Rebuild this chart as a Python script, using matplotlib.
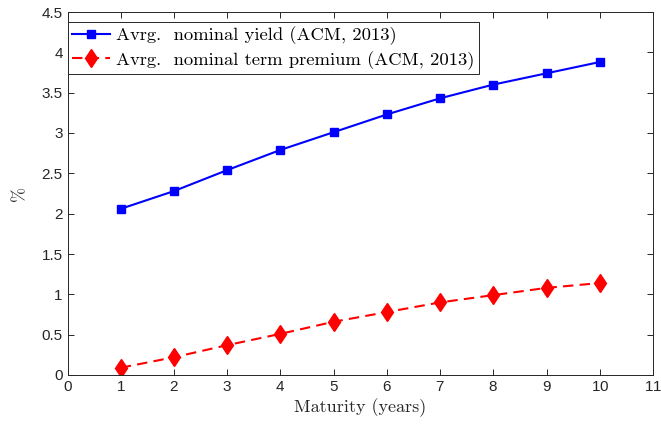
import matplotlib.pyplot as plt

maturity = [1, 2, 3, 4, 5, 6, 7, 8, 9, 10]
yield_avg = [2.06, 2.28, 2.54, 2.79, 3.01, 3.23, 3.43, 3.60, 3.74, 3.88]
term_prem = [0.09, 0.22, 0.37, 0.51, 0.66, 0.78, 0.90, 0.99, 1.08, 1.14]

plt.rcParams['axes.formatter.use_mathtext'] = True

fig = plt.figure(figsize=(6.61, 4.25), dpi=100)
ax = fig.add_axes([67.5 / 661, 50 / 425, 585.5 / 661, 363 / 425])

ax.plot(maturity, yield_avg, color='#0000ff', marker='s', markersize=6,
        linewidth=1.5, label='Avrg.  nominal yield (ACM, 2013)')
ax.plot(maturity, term_prem, color='#ff0000', marker='d', markersize=9.5,
        linewidth=1.5, linestyle=(0, (5, 3)), label='Avrg.  nominal term premium (ACM, 2013)')

ax.set_xlim(0, 11)
ax.set_ylim(0, 4.5)
ax.set_xticks(range(0, 12))
ax.set_yticks([0, 0.5, 1, 1.5, 2, 2.5, 3, 3.5, 4, 4.5])
ax.set_yticklabels(['0', '0.5', '1', '1.5', '2', '2.5', '3', '3.5', '4', '4.5'])
ax.tick_params(direction='in', top=True, right=True, length=4, width=0.7,
               colors='#262626', labelsize=11)
for lab in ax.get_xticklabels() + ax.get_yticklabels():
    lab.set_family('Liberation Sans')
for s in ax.spines.values():
    s.set_color('#262626')
    s.set_linewidth(0.7)

ax.set_xlabel('Maturity (years)', family='cmr10', fontsize=13, color='#262626', labelpad=3)
ax.set_ylabel('%', family='cmr10', fontsize=13, color='#262626', labelpad=10)

leg = ax.legend(loc='upper left', bbox_to_anchor=(0, (375 - 22) / 363),
                prop={'family': 'cmr10', 'size': 13.4},
                fancybox=False, edgecolor='#262626', framealpha=1,
                borderaxespad=0, borderpad=0.25, labelspacing=0.3,
                handlelength=2.05, handletextpad=0.3)
leg.get_frame().set_linewidth(0.7)

fig.savefig('out.png', dpi=100)
